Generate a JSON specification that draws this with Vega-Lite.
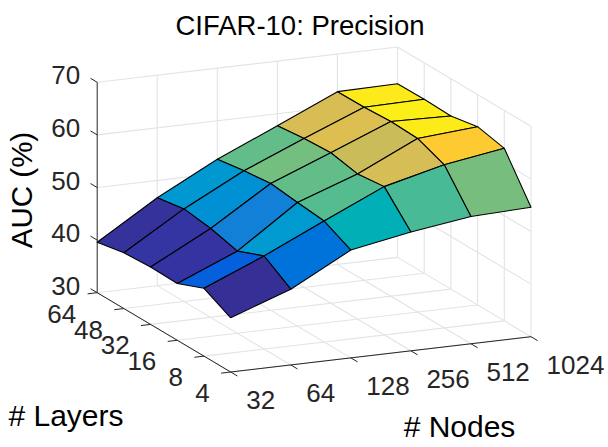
{
"$schema":"https://vega.github.io/schema/vega-lite/v6.json",
"width":608,"height":447,"padding":0,"autosize":{"type":"none"},"background":"white",
"config":{"view":{"stroke":null},"font":"Liberation Sans"},
"title":{"text":"CIFAR-10: Precision","font":"Liberation Sans","fontSize":27.5,"fontWeight":"normal","color":"#000000","anchor":"middle","offset":0,"dy":40,"dx":-4},
"datasets":{
"grid":[
{"i":0,"j":0,"z":30,"i2":0,"j2":5,"z2":30},{"i":1,"j":0,"z":30,"i2":1,"j2":5,"z2":30},{"i":2,"j":0,"z":30,"i2":2,"j2":5,"z2":30},{"i":3,"j":0,"z":30,"i2":3,"j2":5,"z2":30},{"i":4,"j":0,"z":30,"i2":4,"j2":5,"z2":30},{"i":5,"j":0,"z":30,"i2":5,"j2":5,"z2":30},
{"i":0,"j":0,"z":30,"i2":5,"j2":0,"z2":30},{"i":0,"j":1,"z":30,"i2":5,"j2":1,"z2":30},{"i":0,"j":2,"z":30,"i2":5,"j2":2,"z2":30},{"i":0,"j":3,"z":30,"i2":5,"j2":3,"z2":30},{"i":0,"j":4,"z":30,"i2":5,"j2":4,"z2":30},{"i":0,"j":5,"z":30,"i2":5,"j2":5,"z2":30},
{"i":1,"j":5,"z":30,"i2":1,"j2":5,"z2":70},{"i":2,"j":5,"z":30,"i2":2,"j2":5,"z2":70},{"i":3,"j":5,"z":30,"i2":3,"j2":5,"z2":70},{"i":4,"j":5,"z":30,"i2":4,"j2":5,"z2":70},{"i":5,"j":5,"z":30,"i2":5,"j2":5,"z2":70},
{"i":0,"j":5,"z":40,"i2":5,"j2":5,"z2":40},{"i":0,"j":5,"z":50,"i2":5,"j2":5,"z2":50},{"i":0,"j":5,"z":60,"i2":5,"j2":5,"z2":60},{"i":0,"j":5,"z":70,"i2":5,"j2":5,"z2":70},
{"i":5,"j":0,"z":30,"i2":5,"j2":0,"z2":70},{"i":5,"j":1,"z":30,"i2":5,"j2":1,"z2":70},{"i":5,"j":2,"z":30,"i2":5,"j2":2,"z2":70},{"i":5,"j":3,"z":30,"i2":5,"j2":3,"z2":70},{"i":5,"j":4,"z":30,"i2":5,"j2":4,"z2":70},
{"i":5,"j":0,"z":40,"i2":5,"j2":5,"z2":40},{"i":5,"j":0,"z":50,"i2":5,"j2":5,"z2":50},{"i":5,"j":0,"z":60,"i2":5,"j2":5,"z2":60},{"i":5,"j":0,"z":70,"i2":5,"j2":5,"z2":70}
],
"axes":[
{"i":0,"j":5,"z":30,"i2":0,"j2":5,"z2":70},{"i":0,"j":0,"z":30,"i2":0,"j2":5,"z2":30},{"i":0,"j":0,"z":30,"i2":5,"j2":0,"z2":30},
{"i":0,"j":5,"z":30,"i2":0,"j2":5.25,"z2":30},{"i":0,"j":5,"z":40,"i2":0,"j2":5.25,"z2":40},{"i":0,"j":5,"z":50,"i2":0,"j2":5.25,"z2":50},{"i":0,"j":5,"z":60,"i2":0,"j2":5.25,"z2":60},{"i":0,"j":5,"z":70,"i2":0,"j2":5.25,"z2":70},
{"i":0,"j":0,"z":30,"i2":0,"j2":-0.25,"z2":30},{"i":1,"j":0,"z":30,"i2":1,"j2":-0.25,"z2":30},{"i":2,"j":0,"z":30,"i2":2,"j2":-0.25,"z2":30},{"i":3,"j":0,"z":30,"i2":3,"j2":-0.25,"z2":30},{"i":4,"j":0,"z":30,"i2":4,"j2":-0.25,"z2":30},{"i":5,"j":0,"z":30,"i2":5,"j2":-0.25,"z2":30},
{"i":0,"j":0,"z":30,"i2":-0.16,"j2":0,"z2":30},{"i":0,"j":1,"z":30,"i2":-0.16,"j2":1,"z2":30},{"i":0,"j":2,"z":30,"i2":-0.16,"j2":2,"z2":30},{"i":0,"j":3,"z":30,"i2":-0.16,"j2":3,"z2":30},{"i":0,"j":4,"z":30,"i2":-0.16,"j2":4,"z2":30},{"i":0,"j":5,"z":30,"i2":-0.16,"j2":5,"z2":30}
],
"cells":[
{"nodes":512,"layers":48,"i":4,"j":4,"a":62.9,"b":63.07,"c":63.0,"d":62.85,"e":62.9},
{"nodes":256,"layers":48,"i":3,"j":4,"a":58.3,"b":62.9,"c":62.85,"d":57.7,"e":58.3},
{"nodes":128,"layers":48,"i":2,"j":4,"a":53.5,"b":58.3,"c":57.7,"d":52.7,"e":53.5},
{"nodes":64,"layers":48,"i":1,"j":4,"a":47.6,"b":53.5,"c":52.7,"d":46.7,"e":47.6},
{"nodes":32,"layers":48,"i":0,"j":4,"a":40.6,"b":47.6,"c":46.7,"d":39.6,"e":40.6},
{"nodes":512,"layers":32,"i":4,"j":3,"a":63.2,"b":62.9,"c":63.07,"d":62.9,"e":63.2},
{"nodes":256,"layers":32,"i":3,"j":3,"a":58.6,"b":63.2,"c":62.9,"d":58.3,"e":58.6},
{"nodes":128,"layers":32,"i":2,"j":3,"a":54.1,"b":58.6,"c":58.3,"d":53.5,"e":54.1},
{"nodes":64,"layers":32,"i":1,"j":3,"a":46.9,"b":54.1,"c":53.5,"d":47.6,"e":46.9},
{"nodes":32,"layers":32,"i":0,"j":3,"a":40.9,"b":46.9,"c":47.6,"d":40.6,"e":40.9},
{"nodes":512,"layers":16,"i":4,"j":2,"a":63.0,"b":63.9,"c":62.9,"d":63.2,"e":63.0},
{"nodes":256,"layers":16,"i":3,"j":2,"a":57.6,"b":63.0,"c":63.2,"d":58.6,"e":57.6},
{"nodes":128,"layers":16,"i":2,"j":2,"a":53.5,"b":57.6,"c":58.6,"d":54.1,"e":53.5},
{"nodes":64,"layers":16,"i":1,"j":2,"a":45.6,"b":53.5,"c":54.1,"d":46.9,"e":45.6},
{"nodes":32,"layers":16,"i":0,"j":2,"a":40.8,"b":45.6,"c":46.9,"d":40.9,"e":40.8},
{"nodes":512,"layers":8,"i":4,"j":1,"a":61.0,"b":62.8,"c":63.9,"d":63.0,"e":61.0},
{"nodes":256,"layers":8,"i":3,"j":1,"a":58.2,"b":61.0,"c":63.0,"d":57.6,"e":58.2},
{"nodes":128,"layers":8,"i":2,"j":1,"a":53.0,"b":58.2,"c":57.6,"d":53.5,"e":53.0},
{"nodes":64,"layers":8,"i":1,"j":1,"a":47.7,"b":53.0,"c":53.5,"d":45.6,"e":47.7},
{"nodes":32,"layers":8,"i":0,"j":1,"a":42.9,"b":47.7,"c":45.6,"d":40.8,"e":42.9},
{"nodes":512,"layers":4,"i":4,"j":0,"a":54.2,"b":54.6,"c":62.8,"d":61.0,"e":54.2},
{"nodes":256,"layers":4,"i":3,"j":0,"a":52.6,"b":54.2,"c":61.0,"d":58.2,"e":52.6},
{"nodes":128,"layers":4,"i":2,"j":0,"a":50.5,"b":52.6,"c":58.2,"d":53.0,"e":50.5},
{"nodes":64,"layers":4,"i":1,"j":0,"a":44.4,"b":50.5,"c":53.0,"d":47.7,"e":44.4},
{"nodes":32,"layers":4,"i":0,"j":0,"a":40.3,"b":44.4,"c":47.7,"d":42.9,"e":40.3}
]
},
"layer":[
{"data":{"name":"grid"},
 "transform":[
 {"calculate":"230.7+60.06*datum.i-26.7*datum.j","as":"sx"},{"calculate":"372-7.06*datum.i-15.86*datum.j-5.26*(datum.z-30)","as":"sy"},
 {"calculate":"230.7+60.06*datum.i2-26.7*datum.j2","as":"sx2"},{"calculate":"372-7.06*datum.i2-15.86*datum.j2-5.26*(datum.z2-30)","as":"sy2"}],
 "mark":{"type":"rule","color":"#e3e3e3","strokeWidth":1.1},
 "encoding":{"x":{"field":"sx","type":"quantitative","scale":{"domain":[0,608],"nice":false,"zero":false},"axis":null},"y":{"field":"sy","type":"quantitative","scale":{"domain":[447,0],"nice":false,"zero":false},"axis":null},"x2":{"field":"sx2"},"y2":{"field":"sy2"}}},
{"data":{"name":"axes"},
 "transform":[
 {"calculate":"230.7+60.06*datum.i-26.7*datum.j","as":"sx"},{"calculate":"372-7.06*datum.i-15.86*datum.j-5.26*(datum.z-30)","as":"sy"},
 {"calculate":"230.7+60.06*datum.i2-26.7*datum.j2","as":"sx2"},{"calculate":"372-7.06*datum.i2-15.86*datum.j2-5.26*(datum.z2-30)","as":"sy2"}],
 "mark":{"type":"rule","color":"#262626","strokeWidth":1},
 "encoding":{"x":{"field":"sx","type":"quantitative","scale":{"domain":[0,608],"nice":false,"zero":false},"axis":null},"y":{"field":"sy","type":"quantitative","scale":{"domain":[447,0],"nice":false,"zero":false},"axis":null},"x2":{"field":"sx2"},"y2":{"field":"sy2"}}},
{"data":{"name":"cells"},
 "transform":[
 {"calculate":"datum.nodes+'-'+datum.layers","as":"cell"},
 {"calculate":"datum.a","as":"base"},
 {"fold":["a","b","c","d","e"],"as":["corner","auc"]},
 {"calculate":"indexof(['a','b','c','d','e'],datum.corner)","as":"ord"},
 {"calculate":"datum.i+((datum.corner==='b'||datum.corner==='c')?1:0)","as":"vi"},
 {"calculate":"datum.j+((datum.corner==='c'||datum.corner==='d')?1:0)","as":"vj"},
 {"calculate":"230.7+60.06*datum.vi-26.7*datum.vj","as":"sx"},
 {"calculate":"372-7.06*datum.vi-15.86*datum.vj-5.26*(datum.auc-30)","as":"sy"}],
 "mark":{"type":"line","filled":true,"stroke":"#000000","strokeWidth":1.1,"strokeJoin":"round"},
 "encoding":{
  "x":{"field":"sx","type":"quantitative","scale":{"domain":[0,608],"nice":false,"zero":false},"axis":null},
  "y":{"field":"sy","type":"quantitative","scale":{"domain":[447,0],"nice":false,"zero":false},"axis":null},
  "detail":{"field":"cell"},
  "order":{"field":"ord","type":"quantitative"},
  "color":{"field":"base","type":"quantitative","legend":null,"scale":{"domain":[39.6,41,42.64,45.68,48.71,51.75,54.79,57.82,60.86,63.9],"range":["#352a87","#3435a5","#0f5cdd","#1481d6","#06a4ca","#2eb7a4","#87bf77","#d1bb59","#fec832","#f9fb0e"]}}
 }},
{"data":{"values":[{"label":"32","i":0},{"label":"64","i":1},{"label":"128","i":2},{"label":"256","i":3},{"label":"512","i":4},{"label":"1024","i":5}]},
 "transform":[{"calculate":"230.7+60.06*datum.i","as":"sx"},{"calculate":"372-7.06*datum.i","as":"sy"}],
 "mark":{"type":"text","align":"left","baseline":"middle","dx":15.5,"dy":29,"fontSize":26,"font":"Liberation Sans","color":"#262626"},
 "encoding":{"x":{"field":"sx","type":"quantitative","scale":{"domain":[0,608],"nice":false,"zero":false},"axis":null},"y":{"field":"sy","type":"quantitative","scale":{"domain":[447,0],"nice":false,"zero":false},"axis":null},"text":{"field":"label"}}},
{"data":{"values":[{"label":"4","j":0},{"label":"8","j":1},{"label":"16","j":2},{"label":"32","j":3},{"label":"48","j":4},{"label":"64","j":5}]},
 "transform":[{"calculate":"230.7-26.7*datum.j","as":"sx"},{"calculate":"372-15.86*datum.j","as":"sy"}],
 "mark":{"type":"text","align":"right","baseline":"middle","dx":-21,"dy":22,"fontSize":26,"font":"Liberation Sans","color":"#262626"},
 "encoding":{"x":{"field":"sx","type":"quantitative","scale":{"domain":[0,608],"nice":false,"zero":false},"axis":null},"y":{"field":"sy","type":"quantitative","scale":{"domain":[447,0],"nice":false,"zero":false},"axis":null},"text":{"field":"label"}}},
{"data":{"values":[{"label":"30","z":30},{"label":"40","z":40},{"label":"50","z":50},{"label":"60","z":60},{"label":"70","z":70}]},
 "transform":[{"calculate":"97.2","as":"sx"},{"calculate":"292.7-5.26*(datum.z-30)","as":"sy"}],
 "mark":{"type":"text","align":"right","baseline":"middle","dx":-17,"dy":-6,"fontSize":26,"font":"Liberation Sans","color":"#262626"},
 "encoding":{"x":{"field":"sx","type":"quantitative","scale":{"domain":[0,608],"nice":false,"zero":false},"axis":null},"y":{"field":"sy","type":"quantitative","scale":{"domain":[447,0],"nice":false,"zero":false},"axis":null},"text":{"field":"label"}}},
{"data":{"values":[{"label":"# Nodes"}]},
 "mark":{"type":"text","align":"center","baseline":"middle","fontSize":30,"font":"Liberation Sans","color":"#000000"},
 "encoding":{"x":{"value":459.5},"y":{"value":427.5},"text":{"field":"label"}}},
{"data":{"values":[{"label":"# Layers"}]},
 "mark":{"type":"text","align":"center","baseline":"middle","fontSize":30,"font":"Liberation Sans","color":"#000000"},
 "encoding":{"x":{"value":66},"y":{"value":416.5},"text":{"field":"label"}}},
{"data":{"values":[{"label":"AUC (%)"}]},
 "mark":{"type":"text","align":"center","baseline":"middle","angle":270,"fontSize":29.5,"font":"Liberation Sans","color":"#000000"},
 "encoding":{"x":{"value":23},"y":{"value":190},"text":{"field":"label"}}}
]
}
